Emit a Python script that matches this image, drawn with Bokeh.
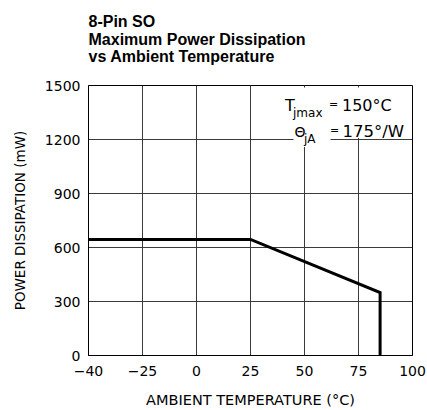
import numpy as np
from bokeh.plotting import figure
from bokeh.models import Range1d, FixedTicker, Label, BoxAnnotation, Title
from bokeh.embed import file_html
from bokeh.resources import INLINE

# ---- data ----
title_lines = ["8-Pin SO", "Maximum Power Dissipation", "vs Ambient Temperature"]
temp_ticks = [-40, -25, 0, 25, 50, 75, 100]
tick_labels = ["\u221240", "\u221225", "0", "25", "50", "75", "100"]
power_ticks = [0, 300, 600, 900, 1200, 1500]
temp_c = [-40, 25, 85, 85]
power_mw = [645, 645, 350, 0]

# the temperature axis is drawn with equally spaced ticks (piecewise-linear scale)
tick_pos = list(range(len(temp_ticks)))
x_pos = np.interp(temp_c, temp_ticks, tick_pos)

W, H = 427, 410
FL, FR, FT, FB = 88, 412, 85, 355

p = figure(width=W, height=H, output_backend="svg", toolbar_location=None,
           x_range=Range1d(0, len(temp_ticks) - 1), y_range=Range1d(0, 1500),
           min_border_left=FL, min_border_right=W - FR,
           min_border_top=FT, min_border_bottom=H - FB, title=None)
p.background_fill_color = "white"
p.border_fill_color = "white"
p.outline_line_color = "black"
p.outline_line_width = 1

# title: a thin invisible spacer next to the frame, then the three bold lines
p.add_layout(Title(text="\u00a0", text_font_size="1px", text_color="white",
                   standoff=8), "above")
p.add_layout(Title(text="\n".join(title_lines), align="left",
                   text_font="Liberation Sans", text_font_size="16px",
                   text_font_style="bold", text_color="black",
                   text_line_height=1.03, standoff=18), "above")

# axes
p.xaxis.ticker = FixedTicker(ticks=tick_pos)
p.xaxis.major_label_overrides = {i: t for i, t in zip(tick_pos, tick_labels)}
p.yaxis.ticker = FixedTicker(ticks=power_ticks)
for ax in (p.xaxis, p.yaxis):
    ax.axis_line_color = "black"
    ax.major_tick_line_color = None
    ax.minor_tick_line_color = None
    ax.major_tick_out = 0
    ax.major_tick_in = 0
    ax.major_label_text_font = "DejaVu Sans"
    ax.major_label_text_font_size = "14px"
    ax.major_label_text_color = "black"
    ax.axis_label_text_font = "DejaVu Sans"
    ax.axis_label_text_font_style = "normal"
    ax.axis_label_text_color = "black"
p.xaxis.axis_label_text_font_size = "14.5px"
p.yaxis.axis_label_text_font_size = "13.5px"
p.xaxis.major_label_standoff = 10
p.yaxis.major_label_standoff = 8
p.xaxis.axis_label = "AMBIENT TEMPERATURE (\u00b0C)"
p.yaxis.axis_label = "POWER DISSIPATION (mW)"
p.xaxis.axis_label_standoff = 13
p.yaxis.axis_label_standoff = 14

p.xgrid.ticker = FixedTicker(ticks=tick_pos)
p.ygrid.ticker = FixedTicker(ticks=power_ticks)
p.grid.grid_line_color = "#3a3a3a"
p.grid.grid_line_width = 1

# curve
p.line(x_pos, power_mw, line_color="black", line_width=3, line_join="miter")

# annotation block
def dx(px):
    return (px - FL) / (FR - FL) * (len(temp_ticks) - 1)

def dy(py):
    return (FB - py) / (FB - FT) * 1500

p.add_layout(BoxAnnotation(left=dx(281), right=dx(410), top=dy(87), bottom=dy(137.5),
                           fill_color="white", fill_alpha=1, line_color=None))
p.add_layout(BoxAnnotation(left=dx(293), right=dx(330), top=dy(137.5), bottom=dy(146.5),
                           fill_color="white", fill_alpha=1, line_color=None))

def lab(px, py, text, size):
    p.add_layout(Label(x=dx(px), y=dy(py), text=text, text_font="DejaVu Sans",
                       text_font_size=size, text_color="black",
                       text_baseline="alphabetic", text_align="left"))

lab(284.5, 105.3, "T", "16px")
lab(292.5, 112.5, "jmax", "12px")
lab(328.5, 104.3, "=", "11px")
lab(341.5, 105.3, "150\u00b0C", "16px")
lab(294, 131, "\u0398", "14px")
lab(303.5, 138.5, "jA", "12px")
lab(329.5, 130, "=", "11px")
lab(342, 131, "175\u00b0/W", "16.5px")

open("out.html", "w").write(file_html(p, INLINE))
